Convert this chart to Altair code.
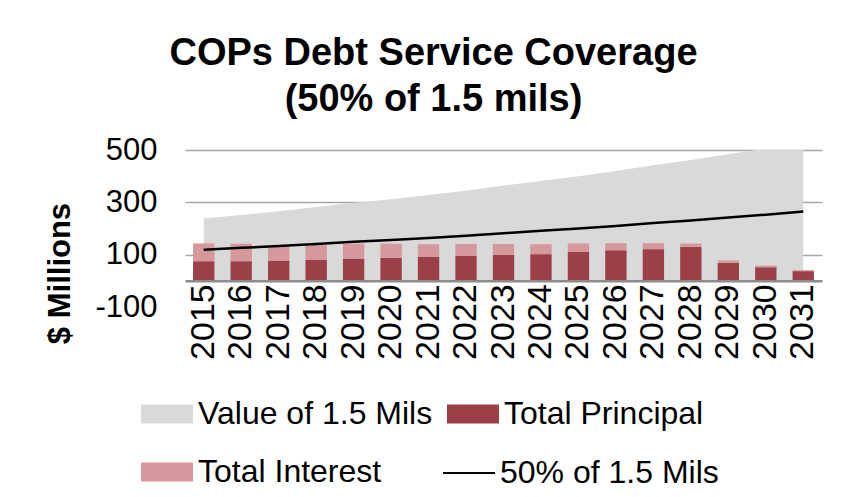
import altair as alt
import pandas as pd

years = ["2015", "2016", "2017", "2018", "2019", "2020", "2021", "2022", "2023",
         "2024", "2025", "2026", "2027", "2028", "2029", "2030", "2031"]
value_15_mils = [238, 252, 266, 282, 298, 312, 328, 344, 364, 382, 400, 420, 442, 462, 484, 506, 530]
half_value = [119, 126, 133, 141, 149, 156, 164, 172, 182, 191, 200, 210, 221, 231, 242, 253, 265]
total_principal = [75, 75, 78, 81, 85, 88, 91, 95, 99, 102, 111, 117, 121, 129, 69, 52, 37]
total_interest = [68, 67, 55, 57, 57, 54, 49, 46, 42, 38, 32, 27, 23, 14, 9, 6, 4]

fill_series = ["Value of 1.5 Mils", "Total Principal", "Total Interest"]
fill_colors = ["#D9D9D9", "#9B4048", "#D5989C"]
line_series = "50% of 1.5 Mils"

FONT = "Liberation Sans"

df_area = pd.DataFrame({"Year": years, "Amount": value_15_mils, "Series": fill_series[0]})
df_bars = pd.concat([
    pd.DataFrame({"Year": years, "Amount": total_principal, "Series": fill_series[1], "Order": 0}),
    pd.DataFrame({"Year": years, "Amount": total_interest, "Series": fill_series[2], "Order": 1}),
], ignore_index=True)
df_line = pd.DataFrame({"Year": years, "Amount": half_value, "Series": line_series})

x_enc = alt.X(
    "Year:N",
    sort=years,
    scale=alt.Scale(paddingInner=0.43, paddingOuter=0.215),
    axis=alt.Axis(
        title=None, labelAngle=-90, labelAlign="right", labelBaseline="middle",
        labelFont=FONT, labelFontSize=34, labelColor="black", labelPadding=3,
        ticks=False, tickSize=0, domainColor="#8c8c8c", domainWidth=2.5,
        offset=-26.2, grid=False, zindex=1,
    ),
)

y_scale = alt.Scale(domain=[-100, 500], nice=False, zero=False)
y_axis = alt.Axis(
    values=[-100, 100, 300, 500], title="$ Millions", titleFont=FONT, titleFontSize=31,
    titleFontWeight="bold", titleColor="black", titleAngle=-90, titleX=-125, titleY=123,
    titleAlign="center", titleBaseline="middle",
    labelExpr="datum.value < 0 ? '-' + abs(datum.value) : '' + datum.value",
    labelFont=FONT, labelFontSize=31, labelColor="black", labelPadding=28,
    ticks=False, tickSize=0, domain=False, gridColor="#a6a6a6", gridWidth=1.3,
    gridOpacity={"condition": {"test": "datum.value === -100", "value": 0}, "value": 1},
)

color_scale = alt.Scale(domain=fill_series, range=fill_colors)
fill_legend = alt.Legend(
    title=None, orient="none", legendX=-44, legendY=238, columns=2, direction="horizontal",
    values=fill_series, columnPadding=14,
    rowPadding=16, symbolType="M-1,-0.365L1,-0.365L1,0.365L-1,0.365Z", symbolSize=2704,
    symbolStrokeWidth=0, symbolOpacity=1, labelFont=FONT, labelFontSize=32,
    labelColor="black", labelOffset=5, labelLimit=400, padding=0,
)
line_legend = alt.Legend(
    title=None, orient="none", legendX=257, legendY=296, symbolType="stroke",
    symbolSize=2704, symbolStrokeWidth=2, labelFont=FONT, labelFontSize=32,
    labelColor="black", labelOffset=4, labelLimit=400, padding=0,
)

area = alt.Chart(df_area).mark_area(clip=True, opacity=1).encode(
    x=x_enc,
    y=alt.Y("Amount:Q", scale=y_scale, axis=y_axis),
    y2=alt.datum(0),
    color=alt.Color("Series:N", scale=color_scale, legend=fill_legend),
)

bars = alt.Chart(df_bars).mark_bar().encode(
    x=x_enc,
    y=alt.Y("Amount:Q", scale=y_scale, stack="zero"),
    color=alt.Color("Series:N", scale=color_scale, legend=fill_legend),
    order=alt.Order("Order:Q"),
)

line = alt.Chart(df_line).mark_line(strokeWidth=2.5).encode(
    x=x_enc,
    y=alt.Y("Amount:Q", scale=y_scale),
    stroke=alt.Stroke("Series:N", scale=alt.Scale(domain=[line_series], range=["black"]),
                      legend=line_legend),
)

chart = alt.layer(area, bars, line).properties(
    width=637,
    height=157,
    title=alt.TitleParams(
        text=["COPs Debt Service Coverage", "(50% of 1.5 mils)"], font=FONT,
        fontSize=38, fontWeight="bold", color="black", anchor="middle", frame="group",
        dx=-70, offset=15, lineHeight=46,
    ),
    autosize=alt.AutoSizeParams(type="none"),
    padding={"left": 177, "top": 142, "right": 17, "bottom": 186},
    background="white",
).configure_view(stroke=None)

chart.save("out.html", embed_options={"renderer": "svg", "actions": False})
